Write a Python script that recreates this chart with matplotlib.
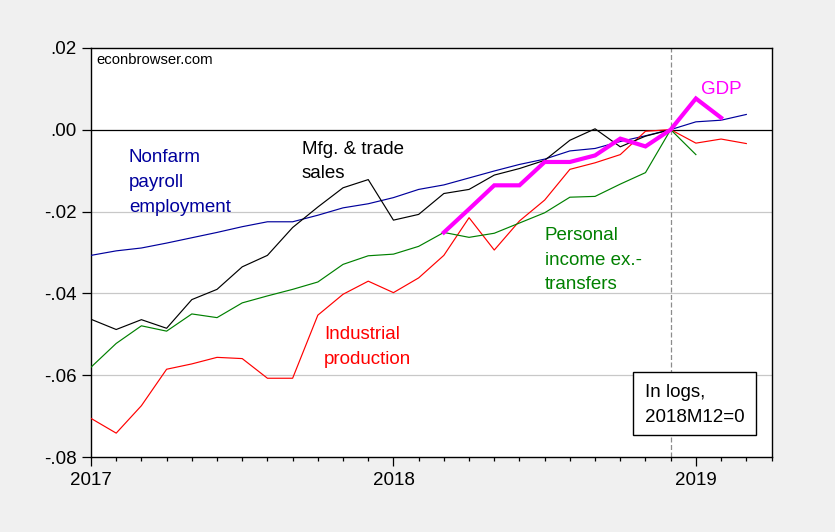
import numpy as np
import matplotlib
matplotlib.use("Agg")
import matplotlib.pyplot as plt
from matplotlib.patches import Rectangle
from matplotlib.ticker import FixedLocator, MultipleLocator

plt.rcParams['font.family'] = ['Liberation Sans', 'DejaVu Sans']

# months since 2017M01
n_months = 28
year_labels = ["2017", "2018", "2019"]
year_pos = [0, 12, 24]

nonfarm = [-0.0307, -0.0296, -0.0289, -0.0277, -0.0264, -0.0251, -0.0237, -0.0225, -0.0225,
           -0.0209, -0.0191, -0.0181, -0.0166, -0.0146, -0.0135, -0.0118, -0.0101, -0.0085,
           -0.0072, -0.0052, -0.0046, -0.0029, -0.0015, 0.0, 0.0019, 0.0023, 0.0037]
indprod = [-0.0705, -0.0741, -0.0674, -0.0585, -0.0572, -0.0556, -0.0559, -0.0607, -0.0607,
           -0.0453, -0.0402, -0.0370, -0.0398, -0.0362, -0.0307, -0.0215, -0.0294, -0.0223,
           -0.0172, -0.0097, -0.0081, -0.0061, -0.0004, 0.0, -0.0033, -0.0023, -0.0034]
persinc = [-0.0580, -0.0522, -0.0479, -0.0492, -0.0450, -0.0459, -0.0423, -0.0406, -0.0390,
           -0.0372, -0.0329, -0.0308, -0.0304, -0.0285, -0.0251, -0.0263, -0.0253, -0.0228,
           -0.0203, -0.0165, -0.0163, -0.0133, -0.0105, 0.0, -0.0061]
mfgsales = [-0.0463, -0.0488, -0.0464, -0.0485, -0.0415, -0.0390, -0.0335, -0.0307, -0.0239,
            -0.0189, -0.0142, -0.0122, -0.0221, -0.0207, -0.0156, -0.0146, -0.0111, -0.0095,
            -0.0075, -0.0026, 0.0002, -0.0042, -0.0016, 0.0]
gdp_start = 14
gdp = [-0.0251, -0.0194, -0.0136, -0.0136, -0.0079, -0.0079, -0.0063, -0.0022, -0.0041,
       0.0, 0.0076, 0.0029]

W, H = 835, 532
fig = plt.figure(figsize=(W / 100, H / 100), dpi=100, facecolor='#F0F0F0')

def px(x, y):
    return (x / W, 1 - y / H)

L, T, R, B = 91, 47.7, 771.5, 457.3
ax = fig.add_axes([L / W, 1 - B / H, (R - L) / W, (B - T) / H])
ax.set_facecolor('white')

ax.set_xlim(0, n_months - 1)
ax.set_ylim(-0.08, 0.02)

ax.yaxis.set_major_locator(FixedLocator([-0.08, -0.06, -0.04, -0.02, 0.0, 0.02]))
ax.set_yticklabels(['-.08', '-.06', '-.04', '-.02', '.00', '.02'])
ax.xaxis.set_major_locator(FixedLocator(year_pos))
ax.set_xticklabels(year_labels)
ax.xaxis.set_minor_locator(MultipleLocator(1))

ax.tick_params(axis='y', which='major', length=6.5, width=0.9, direction='out', pad=4,
               labelsize=13.5, right=False)
ax.tick_params(axis='x', which='major', length=6.3, width=0.9, direction='out', pad=4.5,
               labelsize=13.5, top=False)
ax.tick_params(axis='x', which='minor', length=3.1, width=0.9, direction='out', top=False)

for s in ax.spines.values():
    s.set_linewidth(1.0)
    s.set_color('black')

for yv in [-0.06, -0.04, -0.02]:
    ax.axhline(yv, color='#C8C8C8', lw=0.9, zorder=1)
ax.axhline(0.0, color='black', lw=0.9, zorder=2)
ax.axvline(23, color='#8C8C8C', lw=0.9, ls=(0, (4, 2)), zorder=2)

x = np.arange(n_months)
ax.plot(x[:len(nonfarm)], nonfarm, color='#00009C', lw=0.85, zorder=3)
ax.plot(x[:len(indprod)], indprod, color='#FF0000', lw=0.85, zorder=3)
ax.plot(x[:len(persinc)], persinc, color='#008000', lw=0.85, zorder=3)
ax.plot(x[:len(mfgsales)], mfgsales, color='black', lw=0.85, zorder=3)
ax.plot(x[gdp_start:gdp_start + len(gdp)], gdp, color='#FF00FF', lw=3.0, zorder=4,
        solid_joinstyle='miter')

fs = 13.5
ls = 1.58
fig.text(*px(96, 52.5), 'econbrowser.com', fontsize=10.7, va='top', ha='left', color='black')
fig.text(*px(129, 149.5), 'Nonfarm\npayroll\nemployment', fontsize=fs, va='top', ha='left',
         color='#00009C', linespacing=ls)
fig.text(*px(301.5, 140.5), 'Mfg. & trade\nsales', fontsize=fs, va='top', ha='left',
         color='black', linespacing=ls)
fig.text(*px(324, 326), 'Industrial\nproduction', fontsize=fs, va='top', ha='left',
         color='#FF0000', linespacing=ls)
fig.text(*px(545, 227), 'Personal\nincome ex.-\ntransfers', fontsize=fs, va='top', ha='left',
         color='#008000', linespacing=ls)
fig.text(*px(701, 81), 'GDP', fontsize=fs, va='top', ha='left', color='#FF00FF')

bx0, by0, bx1, by1 = 633.3, 371.7, 755.7, 435
fig.add_artist(Rectangle(px(bx0, by1), (bx1 - bx0) / W, (by1 - by0) / H,
                         transform=fig.transFigure, facecolor='white', edgecolor='black',
                         lw=1.0, zorder=5))
t = fig.text(*px(645, 384), 'In logs,\n2018M12=0', fontsize=fs, va='top', ha='left',
             color='black', linespacing=ls, zorder=6)

fig.savefig('out.png', dpi=100, facecolor=fig.get_facecolor())
